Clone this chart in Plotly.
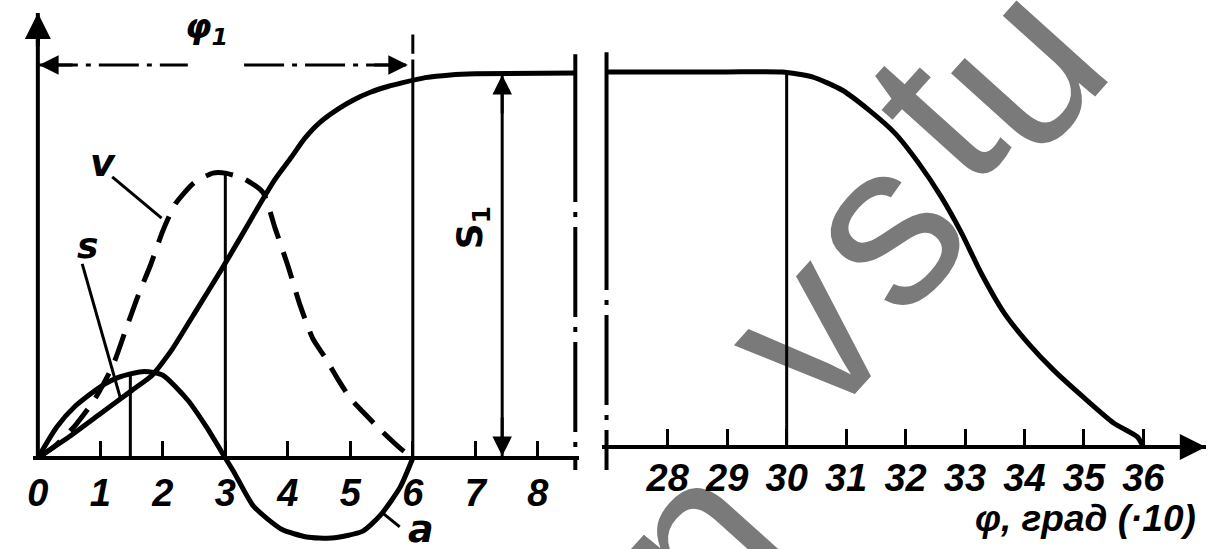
import plotly.graph_objects as go

# left part of the diagram (phi 0..8)
phi_s_left = [0, 0.5, 1.0, 1.5, 1.83, 2.14, 2.56, 2.94, 3.25, 3.5, 3.8, 4.05, 4.27, 4.5, 4.79, 5.05, 5.32, 5.6, 5.84, 6.2, 6.6, 7.0, 8.6]
s_left = [0, 0.55, 1.15, 1.75, 2.15, 2.8, 3.9, 4.9, 5.75, 6.45, 7.25, 7.8, 8.3, 8.7, 9.05, 9.3, 9.5, 9.65, 9.75, 9.88, 9.95, 9.98, 10.0]

phi_v = [0, 0.3, 0.6, 0.9, 1.2, 1.4, 1.6, 1.8, 2.0, 2.2, 2.5, 2.8, 3.0, 3.3, 3.6, 3.8, 4.0, 4.2, 4.4, 4.6, 4.8, 5.0, 5.2, 5.5, 5.8, 6.0]
v = [0, 0.35, 0.85, 1.5, 2.4, 3.3, 4.2, 5.0, 5.9, 6.6, 7.15, 7.4, 7.4, 7.25, 6.9, 5.95, 5.0, 3.95, 3.1, 2.6, 2.05, 1.55, 1.2, 0.7, 0.25, 0]

phi_a = [0, 0.3, 0.6, 1.0, 1.3, 1.7, 2.0, 2.4, 2.7, 3.0, 3.15, 3.45, 3.9, 4.3, 4.7, 5.2, 5.5, 5.8, 6.0]
a = [0, 0.8, 1.35, 1.85, 2.1, 2.25, 2.15, 1.5, 0.8, 0, -0.4, -1.25, -1.85, -2.05, -2.08, -1.9, -1.45, -0.75, 0]

# right part (phi 28..36)
phi_s_right = [26.97, 28, 29, 29.92, 30.43, 30.93, 31.38, 31.82, 32.22, 32.6, 32.94, 33.27, 33.66, 34.06, 34.49, 34.99, 35.5, 35.9, 36.0]
s_right = [10, 10, 10, 10, 9.87, 9.52, 8.99, 8.37, 7.57, 6.67, 5.71, 4.64, 3.57, 2.77, 2.05, 1.33, 0.64, 0.27, 0]

ticks_left = [0, 1, 2, 3, 4, 5, 6, 7, 8]
ticks_right = [28, 29, 30, 31, 32, 33, 34, 35, 36]

S1 = 10.0
phi1 = 6.0

# watermark letters: (char, centre x px, centre y px)
wm_letters = [("n", 676, 526), ("v", 785, 316), ("s", 862, 212), ("t", 914, 102), ("u", 998, 50)]

W, H = 1225, 549
label_font = dict(family="Liberation Sans, Arial", size=38, color="black", weight="bold", style="italic")
dashdot = "90px,10px,5px,10px"

fig = go.Figure()
fig.add_trace(go.Scatter(x=phi_s_left, y=s_left, mode="lines", line=dict(color="black", width=5, shape="spline", smoothing=0.5)))
fig.add_trace(go.Scatter(x=phi_v, y=v, mode="lines", line=dict(color="black", width=5, dash="28px,14px", shape="spline", smoothing=0.6)))
fig.add_trace(go.Scatter(x=phi_a, y=a, mode="lines", line=dict(color="black", width=5, shape="spline", smoothing=0.6)))
fig.add_trace(go.Scatter(x=phi_s_right, y=s_right, xaxis="x2", yaxis="y2", mode="lines",
                         line=dict(color="black", width=5, shape="spline", smoothing=0.6)))


def seg(x0, y0, x1, y1, ax="x", ay="y", w=3, dash="solid"):
    fig.add_shape(type="line", xref=ax, yref=ay, x0=x0, y0=y0, x1=x1, y1=y1,
                  line=dict(color="black", width=w, dash=dash))


def arrow(x, y, dx, dy, ax="x", ay="y", w=3):
    fig.add_annotation(x=x, y=y, xref=ax, yref=ay, ax=dx, ay=dy, axref="pixel", ayref="pixel",
                       text="", showarrow=True, arrowhead=2, arrowsize=1.3, arrowwidth=w, arrowcolor="black")


# y axis with arrow
seg(0, 0, 0, 11.56, w=4)
arrow(0, 11.56, 0, 35, w=4)

# helper verticals
seg(1.48, 0, 1.48, 2.2)
seg(3.0, 0, 3.0, 7.4)
seg(phi1, 0, phi1, 10.35)
seg(phi1, 10.5, phi1, 11.0)
seg(30, 0, 30, S1, ax="x2", ay="y2")

# phi1 dimension
seg(0, 10.21, 2.4, 10.21, dash="40px,8px,5px,8px")
seg(3.3, 10.21, 5.9, 10.21, dash="40px,8px,5px,8px")
arrow(0.02, 10.21, 35, 0)
arrow(5.92, 10.21, -35, 0)

# S1 dimension
seg(7.43, 0, 7.43, 9.95, w=3)
arrow(7.43, 9.95, 0, 40)
arrow(7.43, 0.05, 0, -40)

# break lines
seg(8.6, 10.49, 8.6, 8.99, w=4)
seg(8.6, 8.99, 8.6, -0.31, w=4, dash=dashdot)
seg(26.97, 10.53, 26.97, 6.59, ax="x2", ay="y2", w=4)
seg(26.97, 6.59, 26.97, -0.61, ax="x2", ay="y2", w=4, dash=dashdot)

# leaders
seg(1.19, 7.3, 1.98, 6.23)
seg(0.71, 5.04, 1.32, 1.56)
seg(5.52, -1.43, 5.79, -1.79)

# x axis arrow on the right
arrow(37.05, 0, -30, 0, ax="x2", ay="y2", w=4)

# watermark (behind the curves)
for ch, cx, cy in wm_letters:
    fig.add_shape(type="line", xref="paper", yref="paper", x0=(cx - 2) / W, y0=1 - cy / H, x1=(cx + 2) / W, y1=1 - cy / H,
                  line=dict(color="rgba(0,0,0,0)", width=0), layer="below",
                  label=dict(text=ch, textangle=-48, textposition="middle", xanchor="center",
                             yanchor="middle", padding=0,
                             font=dict(family="Liberation Sans, Arial", size=232, color="#7a7a7a")))

it = dict(family="DejaVu Sans", color="black", weight="bold", style="italic")
fig.add_annotation(x=2.7, y=11.15, text="φ<sub>1</sub>", showarrow=False, font=dict(it, size=34))
fig.add_annotation(x=1.05, y=7.66, text="v", showarrow=False, font=dict(it, size=38))
fig.add_annotation(x=0.79, y=5.53, text="s", showarrow=False, font=dict(it, size=36))
fig.add_annotation(x=6.13, y=-1.85, text="a", showarrow=False, font=dict(it, size=38))
fig.add_annotation(x=6.95, y=5.97, text="S<sub>1</sub>", textangle=-90, showarrow=False,
                   font=dict(family="DejaVu Sans", size=36, color="black", weight="bold"))
fig.add_annotation(x=1085 / W, y=1 - 518 / H, xref="paper", yref="paper", xanchor="center", yanchor="middle",
                   text="φ, град (·10)", showarrow=False, font=dict(label_font, size=37))

fig.update_layout(
    width=W, height=H, margin=dict(l=0, r=0, t=0, b=0),
    paper_bgcolor="white", plot_bgcolor="rgba(0,0,0,0)", showlegend=False,
    xaxis=dict(domain=[26.98 / W, 576 / W], range=[-0.08, 8.662], anchor="free", position=(H - 458) / H,
               showline=True, linecolor="black", linewidth=4, ticks="inside", ticklen=15, tickwidth=3,
               tickcolor="black", tickvals=ticks_left, tickfont=label_font, ticklabelstandoff=0,
               showgrid=False, zeroline=False),
    xaxis2=dict(domain=[599.3 / W, 1205.7 / W], range=[26.9, 37.05], anchor="free", position=(H - 447) / H,
                showline=True, linecolor="black", linewidth=4, ticks="inside", ticklen=16, tickwidth=3,
                tickcolor="black", tickvals=ticks_right, tickfont=label_font, ticklabelstandoff=-4,
                showgrid=False, zeroline=False),
    yaxis=dict(domain=[0, 1], range=[(458 - H) / 38.5, 458 / 38.5], visible=False, anchor="x"),
    yaxis2=dict(domain=[0, 1], range=[(447 - H) / 37.5, 447 / 37.5], visible=False, anchor="x2"),
)

fig.write_html("out.html", config={"displayModeBar": False},
               post_script="document.body.style.margin='0px';")
